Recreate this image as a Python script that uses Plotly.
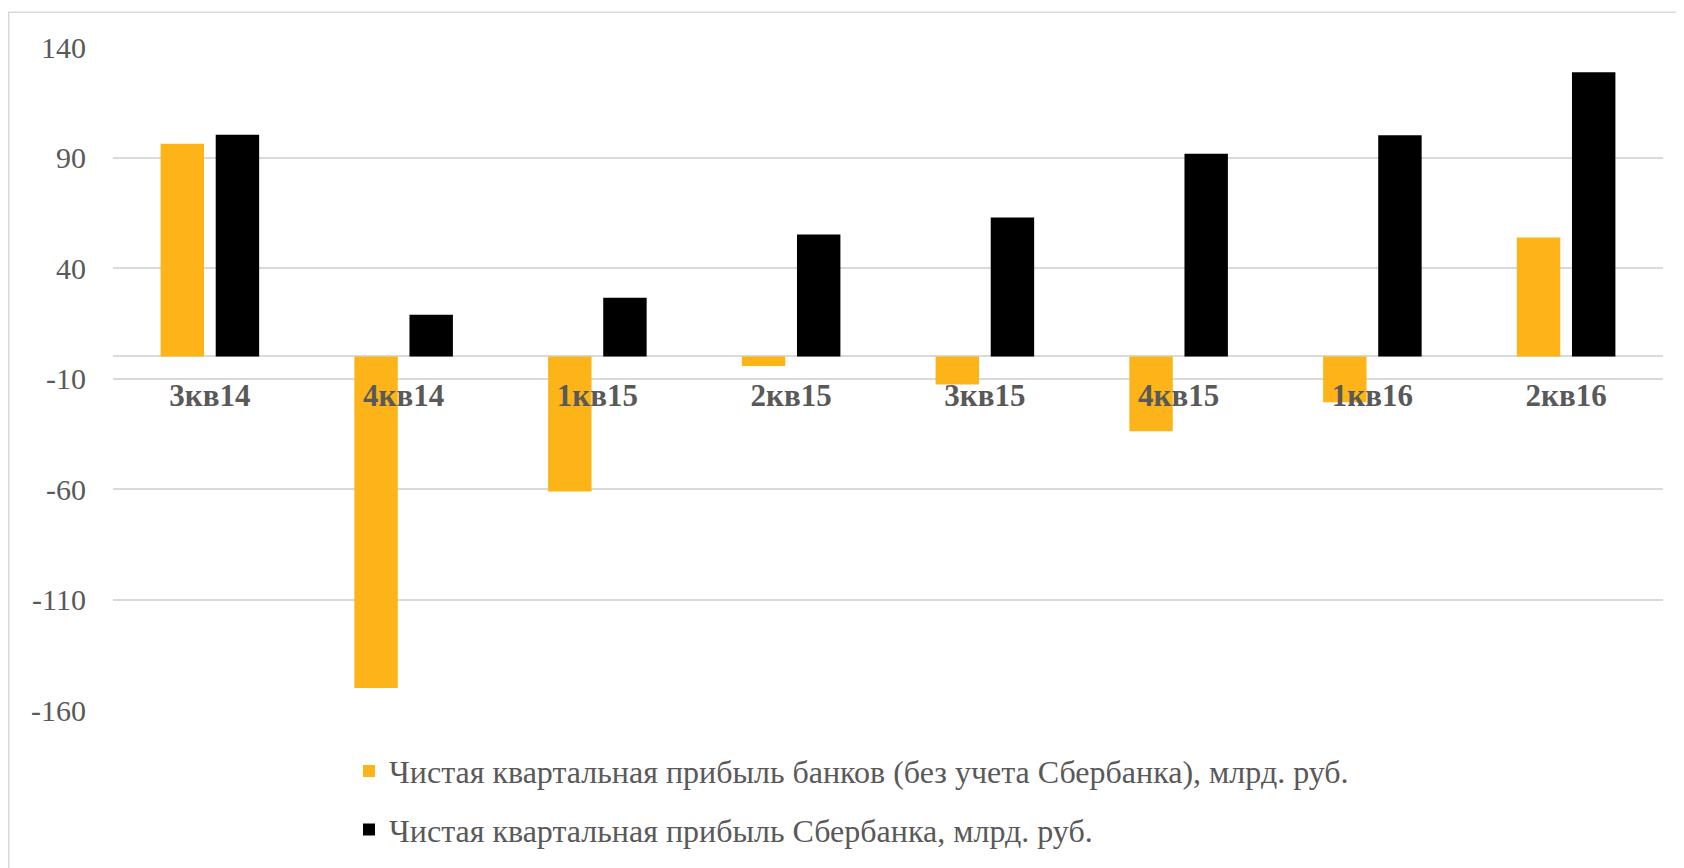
import plotly.graph_objects as go

categories = ["3кв14", "4кв14", "1кв15", "2кв15", "3кв15", "4кв15", "1кв16", "2кв16"]
banks_ex_sber = [96.2, -150.0, -61.1, -4.4, -12.7, -33.9, -20.7, 53.8]
sberbank = [100.3, 18.9, 26.5, 55.2, 62.8, 91.7, 100.1, 128.6]
y_ticks = [140, 90, 40, -10, -60, -110, -160]

name_banks = "Чистая квартальная прибыль банков (без учета Сбербанка), млрд. руб."
name_sber = "Чистая квартальная прибыль Сбербанка, млрд. руб."

FONT = "Liberation Serif, Times New Roman, serif"
GRAY = "#595959"
GRID = "#d9d9d9"

# page body has an 8px margin, so the figure is drawn 8px smaller
W, H = 1676, 860
L, R, T, B = 105, 21, 38.7, 157.7
pw, ph = W - L - R, H - T - B

fig = go.Figure()
fig.add_trace(go.Bar(x=categories, y=banks_ex_sber, name=name_banks,
                     marker=dict(color="#FDB418", line=dict(width=0)),
                     legendgroup="a"))
fig.add_trace(go.Bar(x=categories, y=sberbank, name=name_sber,
                     marker=dict(color="#000000", line=dict(width=0)),
                     legendgroup="b"))

ymin, ymax = -160, 140
fig.update_layout(
    width=W, height=H,
    margin=dict(l=L, r=R, t=T, b=B, autoexpand=False),
    paper_bgcolor="white", plot_bgcolor="white",
    barmode="group", bargap=0.431, bargroupgap=0.212,
    font=dict(family=FONT, color=GRAY, size=30),
    showlegend=True,
    legend=dict(orientation="v", x=(341 - L) / pw, xanchor="left",
                y=(H - B - 736) / ph, yanchor="top",
                font=dict(family=FONT, size=32, color=GRAY),
                tracegroupgap=14, bgcolor="rgba(0,0,0,0)", traceorder="grouped"),
    xaxis=dict(type="category", showgrid=False, showline=False, ticks="",
               zeroline=False, anchor="free",
               position=(0 - ymin) / (ymax - ymin),
               tickfont=dict(family=FONT, size=31, color=GRAY, weight="bold"),
               ticklabelstandoff=18),
    yaxis=dict(range=[ymin, ymax], tickvals=y_ticks,
               ticktext=[str(v) for v in y_ticks],
               showgrid=True, gridcolor=GRID, gridwidth=1.5,
               zeroline=True, zerolinecolor=GRID, zerolinewidth=1.5,
               showline=False, ticks="",
               tickfont=dict(family=FONT, size=30, color=GRAY),
               ticklabelstandoff=26),
)

# outer chart border (light gray frame)
fig.add_shape(type="rect", xref="paper", yref="paper",
              x0=(0.75 - L) / pw, x1=(W + 20 - L) / pw,
              y0=(H - B - (H + 20)) / ph, y1=(H - B - 4) / ph,
              line=dict(color=GRID, width=1.5), fillcolor="rgba(0,0,0,0)",
              layer="below")

fig.write_html("out.html")
